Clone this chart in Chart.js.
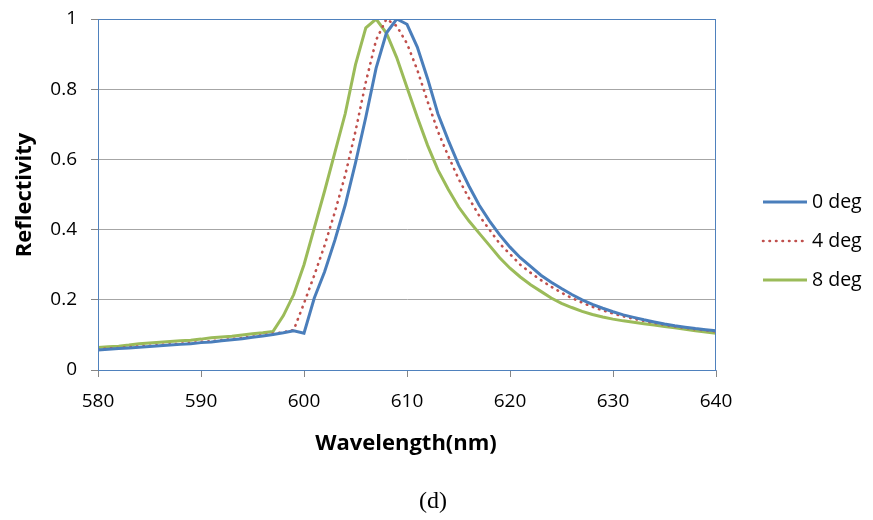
<!DOCTYPE html>
<html>
<head>
<meta charset="utf-8">
<script src="https://cdn.jsdelivr.net/npm/chart.js@4.4.1/dist/chart.umd.min.js"></script>
<style>
  html, body { margin: 0; padding: 0; background: #fff; }
  #wrap { position: relative; width: 873px; height: 520px; }
  #caption { position: absolute; left: 0; width: 866px; top: 487px; text-align: center;
             font-family: "Liberation Serif", "DejaVu Serif", serif; font-size: 24px; color: #000; }
</style>
</head>
<body>
<div id="wrap">
  <canvas id="myChart" width="873" height="520"></canvas>
  <div id="caption">(d)</div>
</div>
<script>
// wavelength in nm, 580..640 step 1
var wavelength = [];
for (var w = 580; w <= 640; w++) wavelength.push(w);

var deg0 = [0.057,0.059,0.061,0.063,0.065,0.067,0.069,0.071,0.073,0.075,
            0.078,0.080,0.083,0.086,0.089,0.093,0.097,0.101,0.106,0.112,
            0.105,0.205,0.280,0.370,0.470,0.590,0.720,0.860,0.960,1.000,
            0.985,0.920,0.830,0.730,0.655,0.585,0.525,0.470,0.425,0.385,
            0.350,0.320,0.295,0.270,0.250,0.232,0.215,0.200,0.187,0.176,
            0.166,0.157,0.150,0.143,0.137,0.131,0.126,0.122,0.118,0.115,0.112];

var deg4 = [0.059,0.061,0.063,0.065,0.067,0.069,0.071,0.073,0.075,0.077,
            0.080,0.082,0.085,0.088,0.091,0.095,0.099,0.103,0.108,0.114,
            0.190,0.270,0.355,0.450,0.555,0.680,0.820,0.940,1.000,0.980,
            0.930,0.855,0.765,0.680,0.610,0.545,0.490,0.440,0.400,0.360,
            0.330,0.300,0.277,0.256,0.237,0.220,0.205,0.192,0.180,0.170,
            0.161,0.153,0.146,0.140,0.134,0.129,0.124,0.120,0.116,0.113,0.110];

var deg8 = [0.064,0.066,0.068,0.071,0.075,0.077,0.079,0.081,0.083,0.085,
            0.088,0.092,0.094,0.096,0.100,0.103,0.106,0.110,0.155,0.215,
            0.300,0.405,0.510,0.620,0.730,0.870,0.975,1.000,0.960,0.890,
            0.805,0.720,0.640,0.570,0.515,0.465,0.425,0.390,0.355,0.320,
            0.290,0.265,0.243,0.224,0.205,0.190,0.178,0.167,0.158,0.151,
            0.145,0.140,0.136,0.132,0.128,0.124,0.120,0.116,0.112,0.108,0.105];

var seriesNames = ['0 deg', '4 deg', '8 deg'];
var xTicks = [580, 590, 600, 610, 620, 630, 640];
var yTicks = [0, 0.2, 0.4, 0.6, 0.8, 1];

function pts(vals) {
    return vals.map(function (v, i) { return { x: wavelength[i], y: v }; });
}

var fam = '"Open Sans", "Noto Sans", sans-serif';
var tickFont = { family: fam, size: 19 };

// plot border, axis titles and legend
var extras = {
    id: 'extras',
    afterDraw: function (chart) {
        var c = chart.ctx, a = chart.chartArea;
        c.save();
        c.strokeStyle = '#4f81bd';
        c.lineWidth = 1;
        c.strokeRect(a.left + 0.5, a.top + 0.5, a.right - a.left - 1, a.bottom - a.top);

        c.fillStyle = '#000';
        c.font = 'bold 22px ' + fam;
        c.textAlign = 'center';
        c.textBaseline = 'middle';
        c.fillText('Wavelength(nm)', 406, 444);
        c.translate(25, 195);
        c.rotate(-Math.PI / 2);
        c.fillText('Reflectivity', 0, 0);
        c.restore();

        c.save();
        c.font = '19.5px ' + fam;
        c.textBaseline = 'middle';
        c.textAlign = 'left';
        chart.data.datasets.forEach(function (ds, i) {
            var y = 202 + i * 39;
            c.beginPath();
            c.strokeStyle = ds.borderColor;
            c.lineWidth = ds.borderWidth;
            c.lineCap = ds.borderCapStyle || 'butt';
            c.setLineDash(ds.borderDash || []);
            c.moveTo(763, y);
            c.lineTo(807, y);
            c.stroke();
            c.setLineDash([]);
            c.fillStyle = '#000';
            c.fillText(ds.label, 812, y);
        });
        c.restore();
    }
};

var ctx = document.getElementById('myChart').getContext('2d');
var chart = new Chart(ctx, {
    type: 'line',
    data: {
        datasets: [{
            label: seriesNames[0],
            data: pts(deg0),
            borderColor: '#4a7ebb',
            borderWidth: 3,
            pointRadius: 0,
            tension: 0
        }, {
            label: seriesNames[1],
            data: pts(deg4),
            borderColor: '#c0504d',
            borderWidth: 2.6,
            borderDash: [0.5, 6],
            borderCapStyle: 'round',
            pointRadius: 0,
            tension: 0
        }, {
            label: seriesNames[2],
            data: pts(deg8),
            borderColor: '#9bbb59',
            borderWidth: 3,
            pointRadius: 0,
            tension: 0
        }]
    },
    plugins: [extras],
    options: {
        responsive: false,
        animation: false,
        layout: { padding: { left: 0, top: 19, right: 157, bottom: 0 } },
        plugins: { legend: { display: false }, tooltip: { enabled: false } },
        scales: {
            x: {
                type: 'linear',
                min: 580, max: 640,
                afterBuildTicks: function (s) { s.ticks = xTicks.map(function (v) { return { value: v }; }); },
                afterFit: function (s) { s.height = 150; s.paddingLeft = 0; s.paddingRight = 0; },
                grid: { drawOnChartArea: false, drawTicks: true, tickLength: 7, color: '#868686' },
                border: { color: '#7d94be' },
                ticks: { font: tickFont, color: '#000', padding: 13, maxRotation: 0 }
            },
            y: {
                min: 0, max: 1,
                afterBuildTicks: function (s) { s.ticks = yTicks.map(function (v) { return { value: v }; }); },
                afterFit: function (s) { s.width = 98; s.paddingTop = 0; s.paddingBottom = 0; },
                grid: { color: '#a6a6a6', tickLength: 7, tickColor: '#868686' },
                border: { color: '#7d94be' },
                ticks: { font: tickFont, color: '#000', padding: 14,
                         callback: function (v) { return String(v); } }
            }
        }
    }
});
</script>
</body>
</html>
